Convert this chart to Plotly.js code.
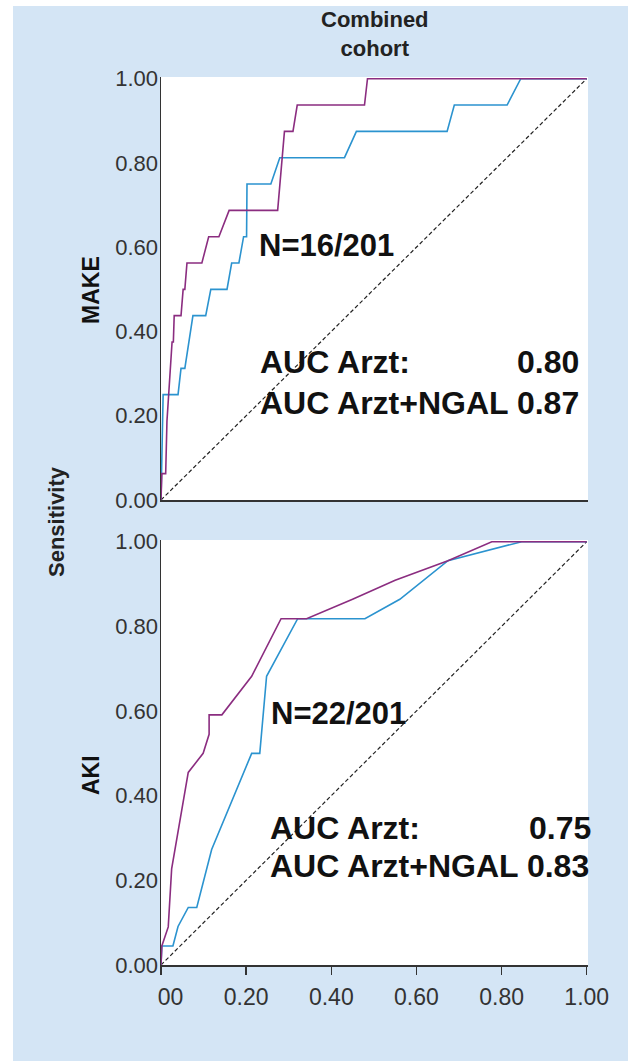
<!DOCTYPE html>
<html><head><meta charset="utf-8">
<script src="https://cdn.plot.ly/plotly-3.0.1.min.js"></script>
<style>html,body{margin:0;padding:0;background:#fff}#chart{width:628px;height:1061px}</style>
</head><body><div id="chart"></div>
<script>
// ---- data ----
const makeArztX = [0,0.002,0.005,0.009,0.04,0.047,0.056,0.075,0.105,0.117,0.155,0.166,0.183,0.194,0.201,0.202,0.258,0.279,0.431,0.459,0.672,0.689,0.813,0.845,1];
const makeArztY = [0,0.125,0.25,0.25,0.25,0.3125,0.3125,0.4375,0.4375,0.5,0.5,0.5625,0.5625,0.625,0.625,0.75,0.75,0.8125,0.8125,0.875,0.875,0.9375,0.9375,1,1];
const makeNgalX = [0,0.002,0.011,0.014,0.026,0.029,0.031,0.047,0.052,0.056,0.061,0.096,0.112,0.136,0.16,0.274,0.29,0.31,0.32,0.478,0.485,1];
const makeNgalY = [0,0.0625,0.0625,0.1875,0.375,0.375,0.4375,0.4375,0.5,0.5,0.5625,0.5625,0.625,0.625,0.6875,0.6875,0.875,0.875,0.9375,0.9375,1,1];
const akiArztX = [0,0.002,0.028,0.04,0.064,0.084,0.119,0.213,0.232,0.248,0.321,0.479,0.561,0.674,0.847,1];
const akiArztY = [0,0.045,0.045,0.091,0.136,0.136,0.273,0.5,0.5,0.682,0.818,0.818,0.864,0.955,1,1];
const akiNgalX = [0,0.002,0.017,0.025,0.064,0.099,0.113,0.113,0.143,0.213,0.282,0.342,0.45,0.55,0.674,0.777,1];
const akiNgalY = [0,0.045,0.09,0.227,0.455,0.5,0.545,0.591,0.591,0.682,0.818,0.818,0.864,0.909,0.955,1,1];
const refX = [0,1];
const refY = [0,1];
const tickVals = [0,0.2,0.4,0.6,0.8,1];
const tickLabels = ["0.00","0.20","0.40","0.60","0.80","1.00"];
const panelNames = ["MAKE","AKI"];
const nLabels = ["N=16/201","N=22/201"];
const aucArzt = ["0.80","0.75"];
const aucNgal = ["0.87","0.83"];

// ---- layout helpers ----
const W = 628, H = 1061;
const px = v => v / W;
const py = v => 1 - v / H;
const FONT = 'Liberation Sans, Arial, Helvetica, sans-serif';
const PURPLE = '#8b2d80', BLUE = '#2b93cf', AXC = '#333333';

function line(x, y, color, xa, ya, dash) {
  return {x: x, y: y, xaxis: xa, yaxis: ya, type: 'scatter', mode: 'lines',
    line: {color: color, width: dash ? 1.2 : 1.6, dash: dash || 'solid'},
    hoverinfo: 'skip', showlegend: false};
}
const traces = [
  line(refX, refY, '#222', 'x', 'y', '4px,2.5px'),
  line(makeArztX, makeArztY, BLUE, 'x', 'y'),
  line(makeNgalX, makeNgalY, PURPLE, 'x', 'y'),
  line(refX, refY, '#222', 'x2', 'y2', '4px,2.5px'),
  line(akiArztX, akiArztY, BLUE, 'x2', 'y2'),
  line(akiNgalX, akiNgalY, PURPLE, 'x2', 'y2')
];

const yAxisBase = {range: [0, 1.004], tickvals: tickVals, ticktext: tickLabels, ticks: '',
  showline: true, linecolor: AXC, linewidth: 1.5, showgrid: false, zeroline: false,
  ticklabelstandoff: -3,
  tickfont: {family: FONT, size: 22, color: AXC}, fixedrange: true};
const xAxisBase = {range: [0, 1.003], tickvals: tickVals, ticktext: tickLabels,
  showline: true, linecolor: AXC, linewidth: 1.5, showgrid: false, zeroline: false,
  tickfont: {family: FONT, size: 23, color: AXC}, fixedrange: true};

const bigFont = {family: FONT, size: 32, color: '#111'};
const nFont = {family: FONT, size: 31, color: '#111'};
function ann(text, x, y, font, xanchor, extra) {
  return Object.assign({text: text, x: px(x), y: py(y), xref: 'paper', yref: 'paper',
    xanchor: xanchor || 'left', yanchor: 'middle', showarrow: false, font: font}, extra || {});
}
const annotations = [
  ann('<b>Combined<br>cohort</b>', 375, 34, {family: FONT, size: 22, color: '#222'}, 'center'),
  ann('<b>' + panelNames[0] + '</b>', 91, 290, {family: FONT, size: 23, color: '#111'}, 'center', {textangle: -90}),
  ann('<b>' + panelNames[1] + '</b>', 91, 775, {family: FONT, size: 23, color: '#111'}, 'center', {textangle: -90}),
  ann('<b>Sensitivity</b>', 56, 521, {family: FONT, size: 22, color: '#222'}, 'center', {textangle: -90}),
  ann('<b>' + nLabels[0] + '</b>', 257, 245, nFont),
  ann('<b>AUC Arzt:</b>', 258, 362, bigFont),
  ann('<b>' + aucArzt[0] + '</b>', 581, 362, bigFont, 'right'),
  ann('<b>AUC Arzt+NGAL ' + aucNgal[0] + '</b>', 258, 403, bigFont),
  ann('<b>' + nLabels[1] + '</b>', 269, 713, nFont),
  ann('<b>AUC Arzt:</b>', 268, 828, bigFont),
  ann('<b>' + aucArzt[1] + '</b>', 593, 828, bigFont, 'right'),
  ann('<b>AUC Arzt+NGAL ' + aucNgal[1] + '</b>', 268, 866, bigFont)
];

const shapes = [
  {type: 'rect', xref: 'paper', yref: 'paper', x0: 0, x1: 1, y0: py(6), y1: 1, fillcolor: '#ffffff', line: {width: 0}, layer: 'below'},
  {type: 'rect', xref: 'paper', yref: 'paper', x0: 0, x1: px(13), y0: 0, y1: 1, fillcolor: '#ffffff', line: {width: 0}, layer: 'below'},
  // blue patch that hides the left part of the first x tick label, as in the reference
  {type: 'rect', xref: 'paper', yref: 'paper', x0: px(132), x1: px(158), y0: py(1010), y1: py(982), fillcolor: '#d4e5f5', line: {width: 0}, layer: 'above'}
];

const layout = {
  width: W, height: H,
  margin: {l: 0, r: 0, t: 0, b: 0},
  paper_bgcolor: '#d4e5f5', plot_bgcolor: '#ffffff',
  showlegend: false,
  xaxis: Object.assign({}, xAxisBase, {domain: [px(161), px(588)], anchor: 'y', showticklabels: false, ticks: ''}),
  yaxis: Object.assign({}, yAxisBase, {domain: [py(500), py(77)], anchor: 'x'}),
  xaxis2: Object.assign({}, xAxisBase, {domain: [px(161), px(588)], anchor: 'y2', ticks: 'outside', ticklen: 8, tickwidth: 1.5, tickcolor: AXC, ticklabelstandoff: 3}),
  yaxis2: Object.assign({}, yAxisBase, {domain: [py(965), py(540)], anchor: 'x2'}),
  annotations: annotations,
  shapes: shapes
};

Plotly.newPlot('chart', traces, layout, {displayModeBar: false, staticPlot: true});
</script>
</body></html>
